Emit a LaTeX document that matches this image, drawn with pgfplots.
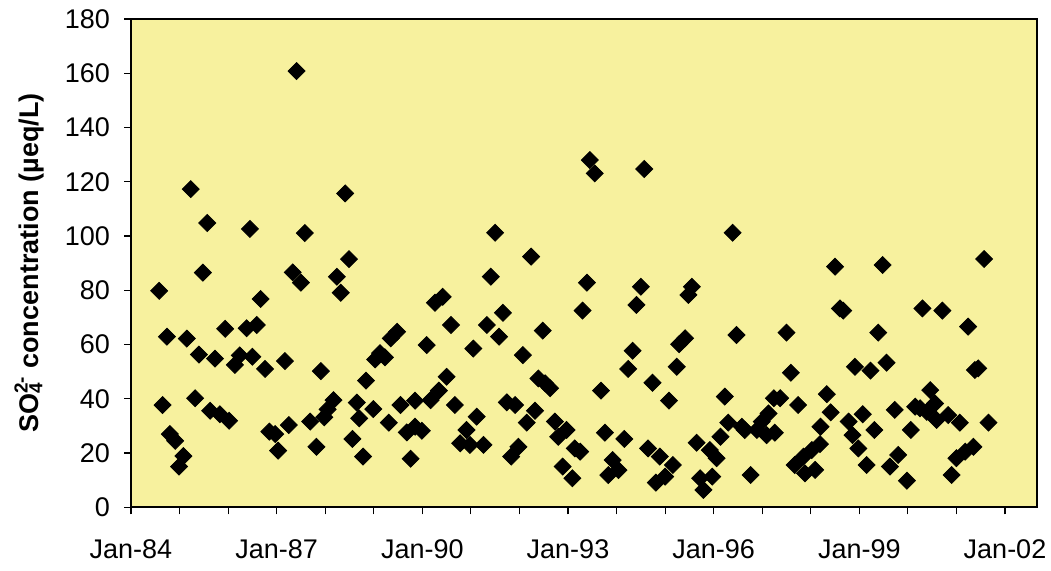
\documentclass[border=0pt]{standalone}
\usepackage{pgfplots}
\pgfplotsset{compat=1.18}
\usepackage{pgfplotstable}
\usepackage{fontspec}
\setmainfont{Liberation Sans}
\definecolor{plotbg}{RGB}{247,241,158}

\pgfplotstableread{
x y
1985.23 117.3
1985.57 104.8
1985.48 86.5
1984.58 79.8
1984.74 62.9
1985.15 62.2
1985.94 65.8
1985.40 56.3
1985.73 54.8
1986.14 52.5
1986.24 56.0
1984.65 37.7
1985.32 40.2
1985.63 35.6
1985.83 34.3
1986.02 31.9
1984.80 27.0
1984.91 24.5
1985.08 18.9
1984.99 15.0
1987.41 160.8
1988.41 115.7
1986.45 102.6
1987.58 101.1
1988.49 91.5
1987.33 86.6
1987.50 82.8
1988.24 85.0
1988.32 79.1
1986.67 76.8
1986.59 67.2
1986.38 66.0
1986.50 55.5
1986.76 51.0
1987.17 53.9
1987.91 50.2
1988.84 46.7
1988.17 39.5
1988.05 36.1
1988.65 38.6
1988.70 32.8
1987.69 31.6
1987.98 33.2
1987.25 30.3
1986.85 27.9
1986.97 27.0
1987.03 20.9
1987.82 22.3
1988.56 25.2
1988.78 18.7
1990.42 77.6
1990.26 75.4
1990.59 67.2
1989.48 64.7
1989.35 62.3
1990.09 59.8
1991.05 58.5
1989.13 56.8
1989.03 54.5
1989.23 55.3
1990.50 48.1
1990.34 43.0
1990.17 39.5
1989.55 37.7
1989.85 39.3
1990.67 37.7
1988.99 36.2
1989.31 31.2
1989.68 27.6
1989.99 28.2
1989.85 29.7
1991.12 33.4
1990.91 28.5
1990.78 23.6
1990.98 23.0
1989.76 17.9
1993.45 128.0
1993.55 123.1
1991.50 101.2
1992.24 92.4
1991.41 85.0
1993.39 82.8
1993.30 72.5
1991.66 71.7
1991.33 67.2
1991.58 62.9
1992.48 65.1
1992.07 56.1
1992.39 47.5
1992.53 45.7
1992.63 43.9
1991.74 38.7
1991.91 37.7
1992.32 35.6
1992.15 31.2
1992.73 31.6
1992.97 28.5
1992.80 26.0
1993.14 21.7
1993.25 20.5
1991.26 23.0
1991.98 22.3
1991.83 18.7
1992.89 15.0
1993.09 10.7
1994.57 124.7
1994.50 81.3
1994.41 74.6
1995.55 81.3
1995.48 78.3
1995.41 62.3
1995.29 60.1
1994.33 57.7
1994.24 51.0
1995.24 51.8
1994.74 45.9
1995.08 39.3
1993.68 43.0
1993.76 27.5
1994.16 25.2
1993.92 17.4
1994.04 13.7
1993.83 11.9
1994.65 21.7
1994.89 18.7
1995.16 15.6
1995.00 11.3
1994.81 9.1
1995.65 23.8
1995.72 10.7
1995.79 6.4
1996.39 101.2
1996.47 63.5
1997.50 64.4
1997.59 49.6
1996.23 40.8
1997.37 40.2
1997.24 40.2
1997.74 37.7
1998.33 41.7
1996.30 31.2
1996.58 29.7
1996.64 28.5
1997.13 34.6
1996.99 31.6
1996.89 28.5
1997.09 26.6
1997.26 27.5
1996.14 26.0
1995.92 21.1
1996.06 18.1
1995.97 11.3
1996.76 11.9
1998.20 29.7
1998.19 23.3
1998.02 21.1
1997.85 18.7
1997.67 15.6
1997.88 12.5
1998.09 13.8
1998.50 88.7
1999.48 89.3
1998.60 73.3
1998.67 72.5
2000.30 73.3
2000.71 72.5
1999.39 64.4
1998.91 51.8
1999.23 50.4
1999.56 53.3
1998.41 35.0
1998.78 31.6
1998.86 26.6
1999.07 34.3
1999.31 28.5
1998.98 21.7
1999.15 15.6
1999.73 35.9
2000.06 28.5
1999.80 19.3
1999.63 15.0
1999.98 9.8
2000.46 43.2
2000.15 37.1
2000.25 36.5
2000.39 35.2
2000.56 38.3
2000.59 32.2
2001.57 91.5
2001.24 66.6
2001.45 51.2
2001.38 50.6
2000.83 34.0
2001.07 31.2
2001.66 31.2
2001.35 22.3
2001.18 20.5
2001.00 18.1
2000.90 11.9
}\sodata

\begin{document}
\begin{tikzpicture}
\useasboundingbox (-65.5pt,-31.85pt) rectangle (460pt,253.65pt);
\begin{axis}[
  at={(0pt,0pt)}, anchor=south west,
  scale only axis, width=453pt, height=244.15pt,
  xmin=1984, xmax=2002.659, ymin=0, ymax=180,
  axis background/.style={fill=plotbg},
  axis line style={black, line width=1pt},
  tick align=outside,
  xtick pos=left, ytick pos=left,
  xtick={1984,1987,1990,1993,1996,1999,2002},
  xticklabels={Jan-84,Jan-87,Jan-90,Jan-93,Jan-96,Jan-99,Jan-02},
  minor x tick num=2,
  ytick={0,20,...,180},
  major tick length=3.5pt, minor tick length=3.5pt,
  tick style={black, line width=0.6pt},
  ticklabel style={font=\fontsize{13.5}{16}\selectfont},
  /pgf/number format/assume math mode=true,
  yticklabel style={xshift=-3.5pt},
  xticklabel style={yshift=-9pt},
  ylabel={\fontsize{13.5}{16}\selectfont\bfseries SO\rlap{\textsubscript{4}}\textsuperscript{2-} concentration (µeq/L)},
  ylabel style={at={(axis description cs:-0.1026,0.5)}, anchor=base},
]
\addplot[only marks, mark=square*, mark size=3pt,
  mark options={rotate=45, fill=black, draw=black}] table[x=x,y=y] {\sodata};
\end{axis}
\end{tikzpicture}
\end{document}
